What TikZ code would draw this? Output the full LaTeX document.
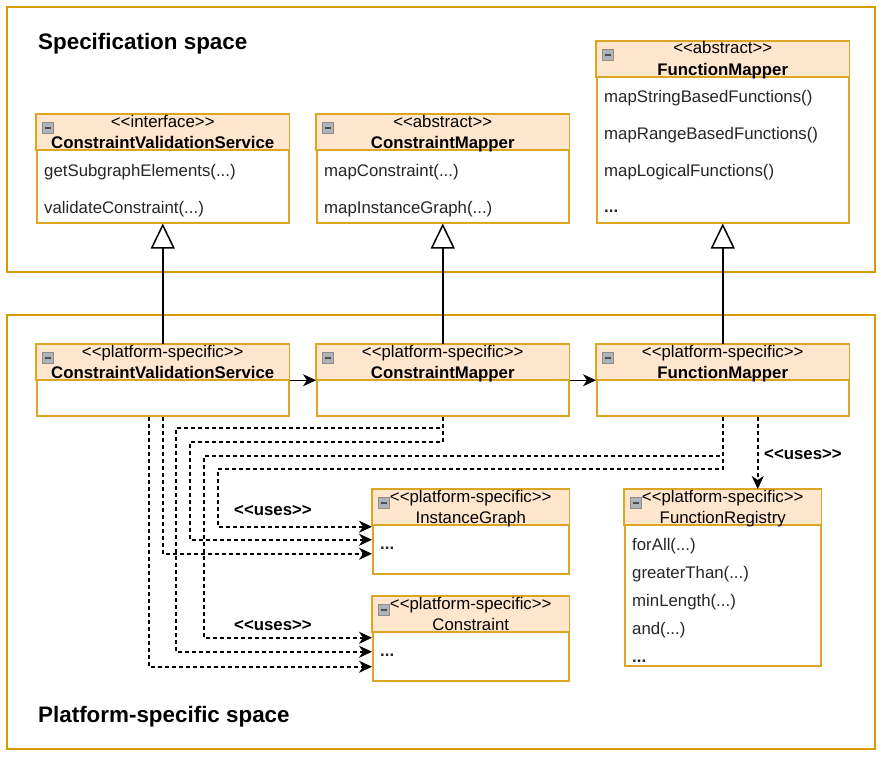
\documentclass[tikz,border=0pt]{standalone}
\usepackage{fontspec}
\newfontfamily\arial{Liberation Sans}
\usetikzlibrary{arrows.meta,calc}
\definecolor{corange}{RGB}{215,155,0}
\definecolor{cbord}{RGB}{220,165,35}
\definecolor{chead}{RGB}{255,230,204}
\definecolor{cicon}{RGB}{175,178,184}
\newcommand\ellip{...}
\begin{document}
\begin{tikzpicture}[x=1pt, y=-1pt, >=Stealth, font=\arial\fontsize{16.8}{19}\selectfont,
  frame/.style={draw=corange, line width=2.6pt},
  cls/.style={draw=cbord, fill=white, line width=1.5pt, anchor=north west, inner sep=0pt, minimum width=#1},
  cls/.default=252,
  hdr/.style={draw=cbord, fill=chead, line width=1.5pt},
  icon/.style={draw=black!45, fill=cicon, line width=0.6pt},
  item/.style={anchor=base west, inner sep=0pt, text=black!85},
  title/.style={anchor=base west, inner sep=0pt, font=\arial\bfseries\fontsize{22.4}{26}\selectfont},
  lbl/.style={anchor=base, inner sep=0pt, font=\arial\bfseries\fontsize{16.8}{19}\selectfont},
  inh/.style={line width=1.5pt, -{Triangle[open, length=25pt, width=24pt, fill=white]}},
  assoc/.style={line width=1.5pt, -{Stealth[length=13pt, width=12pt, inset=4pt]}},
  uses/.style={line width=1.5pt, dash pattern=on 4pt off 3pt, -{Stealth[length=13pt, width=12pt, inset=4pt]}}]
\useasboundingbox (0,0) rectangle (888,760);
\draw[frame] (7,7) rectangle (875,272);
\draw[frame] (7,315) rectangle (875,749);
\node[title] at (38,50) {Specification space};
\node[title] at (38,722) {Platform-specific space};

\node[cls, minimum height=108] (scvs) at (36,114) {};
\node[cls, minimum height=108] (scm) at (316,114) {};
\node[cls, minimum height=181] (sfm) at (596,41) {};
\node[cls, minimum height=71] (pcvs) at (36,344) {};
\node[cls, minimum height=71] (pcm) at (316,344) {};
\node[cls, minimum height=71] (pfm) at (596,344) {};
\node[cls=196, minimum height=84] (ig) at (372,489) {};
\node[cls=196, minimum height=84] (cons) at (372,596) {};
\node[cls=196, minimum height=176] (fr) at (624,489) {};

\foreach \b/\s/\n in {scvs/interface/\textbf{ConstraintValidationService},
    scm/abstract/\textbf{ConstraintMapper}, sfm/abstract/\textbf{FunctionMapper},
    pcvs/platform-specific/\textbf{ConstraintValidationService},
    pcm/platform-specific/\textbf{ConstraintMapper}, pfm/platform-specific/\textbf{FunctionMapper},
    ig/platform-specific/InstanceGraph, cons/platform-specific/Constraint,
    fr/platform-specific/FunctionRegistry}
  {\draw[hdr] (\b.north west) rectangle ($(\b.north east)+(0,36)$);
   \filldraw[icon] ($(\b.north west)+(6,8)$) rectangle +(11,11);
   \draw[line width=1.6pt, black!70] ($(\b.north west)+(8.5,14)$) -- +(6,0);
   \node[anchor=base, inner sep=0pt] at ($(\b.north)+(0,13)$) {<<\s>>};
   \node[anchor=base, inner sep=0pt] at ($(\b.north)+(0,34)$) {\n};}

\foreach \t [count=\i] in {getSubgraphElements(\ellip), validateConstraint(\ellip)}
  \node[item] at ($(scvs.north west)+(8,25+37*\i)$) {\t};
\foreach \t [count=\i] in {mapConstraint(\ellip), mapInstanceGraph(\ellip)}
  \node[item] at ($(scm.north west)+(8,25+37*\i)$) {\t};
\foreach \t [count=\i] in {mapStringBasedFunctions(), mapRangeBasedFunctions(), mapLogicalFunctions(), \textbf{\ellip}}
  \node[item] at ($(sfm.north west)+(8,25+36.7*\i)$) {\t};
\foreach \t [count=\i] in {forAll(\ellip), greaterThan(\ellip), minLength(\ellip), and(\ellip), \textbf{\ellip}}
  \node[item] at ($(fr.north west)+(8,33+28*\i)$) {\t};
\node[item] at ($(ig.north west)+(8,60)$) {\textbf{\ellip}};
\node[item] at ($(cons.north west)+(8,60)$) {\textbf{\ellip}};

\draw[inh] (pcvs.north) -- (scvs.south);
\draw[inh] (pcm.north) -- (scm.south);
\draw[inh] (pfm.north) -- (sfm.south);
\draw[assoc] (pcvs.east) -- (pcm.west);
\draw[assoc] (pcm.east) -- (pfm.west);

\draw[uses] ($(pcvs.south)+(-14,0)$) |- ($(cons.west)+(0,28)$);
\draw[uses] (pcvs.south) |- ($(ig.west)+(0,22)$);
\draw[uses] (pcm.south) |- (176,428) |- ($(cons.west)+(0,13)$);
\draw[uses] (pcm.south) |- (190,442) |- ($(ig.west)+(0,8)$);
\draw[uses] (pfm.south) |- (204,456) |- ($(cons.west)+(0,-1)$);
\draw[uses] (pfm.south) |- (218,469) |- ($(ig.west)+(0,-5)$);
\draw[uses] ($(pfm.south)+(35,0)$) -- ($(fr.north)+(35,0)$);
\node[lbl] at (273,515) {<<uses>>};
\node[lbl] at (273,630) {<<uses>>};
\node[lbl] at (803,459) {<<uses>>};
\end{tikzpicture}
\end{document}
